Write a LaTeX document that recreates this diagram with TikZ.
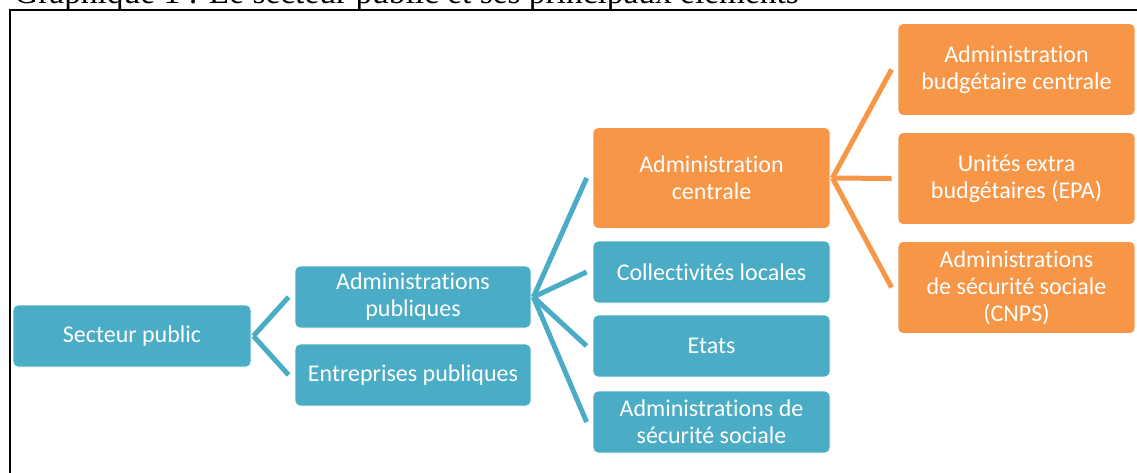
\documentclass[tikz,border=0pt]{standalone}
\usepackage{fontspec}
\newfontfamily\boxfont[Ligatures=NoCommon,RawFeature=-liga]{Carlito}
\newfontfamily\titlefont{Liberation Serif}
\definecolor{tealbox}{HTML}{4BACC6}
\definecolor{orangebox}{HTML}{F79646}
\tikzset{
  basebox/.style={rectangle, rounded corners=5pt, draw=white, line width=0.8pt,
    text=white, align=center, inner sep=0pt, minimum width=237pt,
    font=\boxfont\fontsize{24}{27}\selectfont},
  tbox/.style={basebox, fill=tealbox},
  obox/.style={basebox, fill=orangebox},
  tlink/.style={draw=tealbox, line width=5pt},
  olink/.style={draw=orangebox, line width=5pt},
}
\begin{document}
\begin{tikzpicture}[x=1pt,y=-1pt]
\useasboundingbox (0,0) rectangle (1137,472);
\clip (0,0) rectangle (1137,472);
\node[anchor=base west, inner sep=0pt, font=\titlefont\fontsize{33.4}{40}\selectfont] (title) at (14,3) {Graphique 1 : Le secteur public et ses principaux éléments};
\draw[line width=2pt] (1140,10) -- (10,10) -- (10,475);

\node[tbox, minimum width=238pt, minimum height=62pt] (sp) at (132,336) {Secteur public};
\node[tbox, minimum width=236pt, minimum height=62pt] (ap) at (413,297) {Administrations\\publiques};
\node[tbox, minimum width=236pt, minimum height=62pt] (ep) at (413,375) {Entreprises publiques};
\node[obox, minimum height=101pt] (ac) at (711.5,178) {Administration\\centrale};
\node[tbox, minimum height=62pt] (cl) at (711.5,272) {Collectivités locales};
\node[tbox, minimum height=62pt] (et) at (711.5,346) {Etats};
\node[tbox, minimum height=62pt] (as) at (711.5,422) {Administrations de\\sécurité sociale};
\node[obox, minimum height=92pt] (ab) at (1016.5,69.5) {Administration\\budgétaire centrale};
\node[obox, minimum height=92pt] (ue) at (1016.5,178.5) {Unités extra\\budgétaires (EPA)};
\node[obox, minimum height=92pt] (cn) at (1016.5,287.5) {Administrations\\de sécurité sociale\\(CNPS)};

\coordinate (f1) at ([xshift=2pt]sp.east);
\coordinate (f2) at ([xshift=2pt]ap.east);
\coordinate (f3) at ([xshift=2pt]ac.east);
\draw[tlink] (f1) -- ([xshift=-6pt]ap.west);
\draw[tlink] (f1) -- ([xshift=-6pt]ep.west);
\draw[tlink] (f2) -- ([xshift=-6pt]ac.west);
\draw[tlink] (f2) -- ([xshift=-6pt]cl.west);
\draw[tlink] (f2) -- ([xshift=-6pt]et.west);
\draw[tlink] (f2) -- ([xshift=-6pt]as.west);
\draw[olink] (f3) -- ([xshift=-6pt]ab.west);
\draw[olink] (f3) -- ([xshift=-6pt]ue.west);
\draw[olink] (f3) -- ([xshift=-6pt]cn.west);
\end{tikzpicture}
\end{document}
